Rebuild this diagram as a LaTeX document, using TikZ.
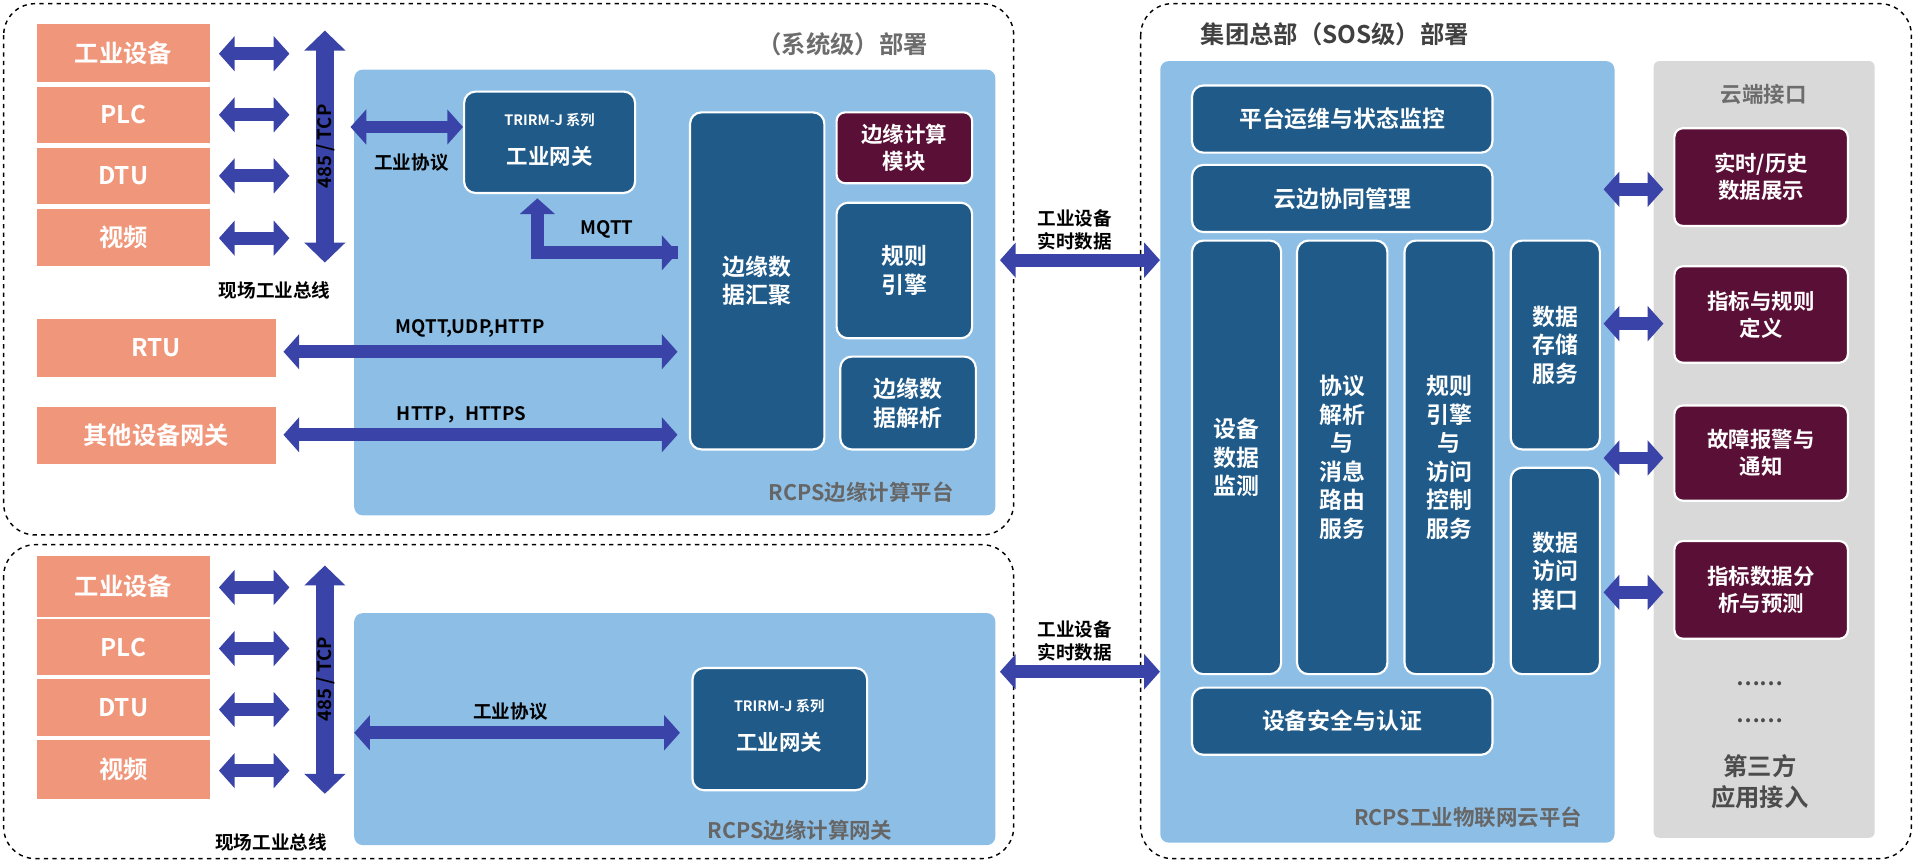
\documentclass[tikz,border=0pt]{standalone}
\usepackage{fontspec}
\setmainfont{Noto Sans CJK SC}[BoldFont={Noto Sans CJK SC Bold}]
\usetikzlibrary{arrows.meta,positioning}
\definecolor{salmon}{HTML}{F0967A}
\definecolor{platblue}{HTML}{8DBFE6}
\definecolor{boxblue}{HTML}{1F5A88}
\definecolor{wine}{HTML}{5A0F36}
\definecolor{arrblue}{HTML}{3A44A8}
\definecolor{panelgray}{HTML}{D9D9D9}
\tikzset{font=\bfseries\fontsize{15}{19}\selectfont}
\tikzstyle{dev}=[fill=salmon,draw=none,inner sep=0pt,text=white,font=\bfseries\fontsize{17}{20}\selectfont]
\tikzstyle{plat}=[fill=platblue,draw=none,rounded corners=6pt,inner sep=0pt]
\tikzstyle{mod}=[fill=boxblue,draw=white,line width=1.5pt,rounded corners=8pt,inner sep=0pt,text=white,align=center,font=\bfseries\fontsize{16}{20}\selectfont]
\tikzstyle{cloud}=[fill=wine,draw=white,line width=1.5pt,rounded corners=6pt,inner sep=0pt,text=white,align=center]
\tikzstyle{zone}=[draw=black,dashed,line width=1pt,rounded corners=22pt]
\tikzstyle{link}=[arrblue,line width=9pt,{Triangle[width=24pt,length=11pt]}-{Triangle[width=24pt,length=11pt]}]
\tikzstyle{lbl}=[font=\bfseries\fontsize{13}{16}\selectfont,align=center]
% box from corner (x1,y1) to (x2,y2) in pixel units
\newcommand\blk[7]{\node[#1,minimum width={(#4-#2)*0.03cm},minimum height={(#5-#3)*0.03cm}] (#6) at ({(#2+#4)/2},{(#3+#5)/2}) {#7};}
\begin{document}
\begin{tikzpicture}[x=0.03cm,y=-0.03cm]
\useasboundingbox (0,0) rectangle (1568,707);
% dashed zones
\draw[zone] (3,3) rectangle (830,438);
\draw[zone] (3,446) rectangle (830,703);
\draw[zone] (934,3) rectangle (1565,703);
\node[text=gray!85!black,font=\bfseries\fontsize{17}{20}\selectfont] at (690,36) {（系统级）部署};
\node[text=black!75,font=\bfseries\fontsize{17}{20}\selectfont] at (1093,28) {集团总部（SOS级）部署};
% platforms
\blk{plat}{290}{57}{815}{422}{edgeplat}{}
\node[text=gray!80!black] at (705,403) {RCPS边缘计算平台};
\blk{plat}{290}{502}{815}{692}{edgegw}{}
\node[text=gray!80!black] at (655,680) {RCPS边缘计算网关};
\blk{plat}{950}{50}{1322}{690}{cloudplat}{}
\node[text=gray!80!black] at (1202,669) {RCPS工业物联网云平台};
\blk{fill=panelgray,rounded corners=4pt,inner sep=0pt}{1354}{50}{1535}{686}{panel}{}
\node[text=gray!85!black] at (1444,77) {云端接口};
% field devices (top)
\blk{dev}{30}{20}{172}{67}{dev1}{工业设备}
\blk{dev}{30}{71}{172}{117}{plc1}{PLC}
\blk{dev}{30}{121}{172}{167}{dtu1}{DTU}
\blk{dev}{30}{171}{172}{218}{cam1}{视频}
\blk{dev}{30}{261}{226}{309}{rtu}{RTU}
\blk{dev}{30}{333}{226}{380}{othergw}{其他设备网关}
% field devices (bottom)
\blk{dev}{30}{455}{172}{505}{dev2}{工业设备}
\blk{dev}{30}{507}{172}{553}{plc2}{PLC}
\blk{dev}{30}{556}{172}{603}{dtu2}{DTU}
\blk{dev}{30}{606}{172}{654}{cam2}{视频}
% top modules
\blk{mod}{380}{75}{520}{158}{gw1}{}
\node[text=white,font=\bfseries\fontsize{10}{12}\selectfont] at (450,98) {TRIRM-J 系列};
\node[text=white] at (450,128) {工业网关};
\blk{mod}{565}{92}{675}{368}{agg}{边缘数\\据汇聚}
\blk{cloud}{685}{92}{796}{150}{ecm}{边缘计算\\模块}
\blk{mod}{685}{166}{796}{277}{rule}{规则\\引擎}
\blk{mod}{688}{292}{799}{368}{parse}{边缘数\\据解析}
\blk{mod}{567}{547}{710}{647}{gw2}{}
\node[text=white,font=\bfseries\fontsize{10}{12}\selectfont] at (638,578) {TRIRM-J 系列};
\node[text=white] at (638,608) {工业网关};
% cloud modules
\blk{mod}{976}{70}{1222}{125}{ops}{平台运维与状态监控}
\blk{mod}{976}{135}{1222}{190}{coop}{云边协同管理}
\blk{mod}{976}{197}{1049}{552}{mon}{设备\\数据\\监测}
\blk{mod}{1062}{197}{1136}{552}{route}{协议\\解析\\与\\消息\\路由\\服务}
\blk{mod}{1150}{197}{1223}{552}{acl}{规则\\引擎\\与\\访问\\控制\\服务}
\blk{mod}{1237}{197}{1310}{368}{store}{数据\\存储\\服务}
\blk{mod}{1237}{383}{1310}{552}{api}{数据\\访问\\接口}
\blk{mod}{976}{563}{1222}{618}{sec}{设备安全与认证}
% cloud interfaces
\blk{cloud}{1371}{105}{1513}{185}{hist}{实时/历史\\数据展示}
\blk{cloud}{1371}{218}{1513}{297}{kpi}{指标与规则\\定义}
\blk{cloud}{1371}{332}{1513}{410}{alarm}{故障报警与\\通知}
\blk{cloud}{1371}{443}{1513}{523}{pred}{指标数据分\\析与预测}
\node[text=black!70] at (1441,560) {……};
\node[text=black!70] at (1441,590) {……};
\node[text=black!70,font=\bfseries\fontsize{17}{22}\selectfont,align=center] at (1441,640) {第三方\\应用接入};
% connectors
\coordinate (busT1) at (266,25); \coordinate (busB1) at (266,215);
\coordinate (busT2) at (266,463); \coordinate (busB2) at (266,650);
\foreach \n/\y in {dev1/44,plc1/94,dtu1/144,cam1/195,dev2/481,plc2/531,dtu2/581,cam2/631}
  \draw[link] ([xshift=6pt]\n.east |- 0,\y) -- (237,\y);
\draw[link,line width=13pt,{Triangle[width=28pt,length=14pt]}-{Triangle[width=28pt,length=14pt]}] (busT1) -- (busB1);
\draw[link,line width=13pt,{Triangle[width=28pt,length=14pt]}-{Triangle[width=28pt,length=14pt]}] (busT2) -- (busB2);
\node[rotate=90,lbl] at (267,120) {485 / TCP};
\node[rotate=90,lbl] at (267,556) {485 / TCP};
\node[lbl] at (225,238) {现场工业总线};
\node[lbl] at (222,690) {现场工业总线};
\draw[link] (287,104) -- (gw1.west |- 0,104);
\node[lbl] at (337,133) {工业协议};
\draw[arrblue,line width=9pt,-{Triangle[width=24pt,length=11pt]}] (555,207) -- (440,207) -- ([yshift=-3pt]gw1.south -| 440,0);
\draw[arrblue,line width=9pt,-{Triangle[width=24pt,length=11pt]}] (440,207) -- ([xshift=-8pt]agg.west |- 0,207);
\node[lbl] at (497,188) {MQTT};
\draw[link] ([xshift=5pt]rtu.east |- 0,288) -- ([xshift=-8pt]agg.west |- 0,288);
\node[lbl] at (385,269) {MQTT,UDP,HTTP};
\draw[link] ([xshift=5pt]othergw.east |- 0,356) -- ([xshift=-8pt]agg.west |- 0,356);
\node[lbl] at (378,340) {HTTP，HTTPS};
\draw[link] (290,600) -- ([xshift=-8pt]gw2.west |- 0,600);
\node[lbl] at (418,583) {工业协议};
\draw[link] ([xshift=3pt]edgeplat.east |- 0,213) -- (cloudplat.west |- 0,213);
\node[lbl] at (880,188) {工业设备\\实时数据};
\draw[link] ([xshift=3pt]edgegw.east |- 0,550) -- (cloudplat.west |- 0,550);
\node[lbl] at (880,525) {工业设备\\实时数据};
\foreach \y in {155,265,375,485}
  \draw[link] (1313,\y) -- (1362,\y);
\end{tikzpicture}
\end{document}
